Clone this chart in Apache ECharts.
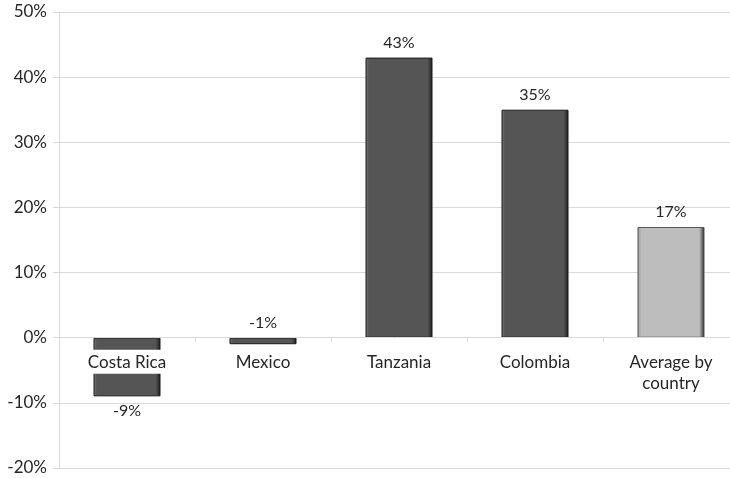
<!DOCTYPE html>
<html>
<head>
<meta charset="utf-8">
<script src="https://cdn.jsdelivr.net/npm/echarts@6/dist/echarts.min.js"></script>
<style>
  html, body { margin: 0; padding: 0; background: #fff; }
  #chart { width: 730px; height: 478px; }
</style>
</head>
<body>
<div id="chart"></div>
<script>
// Change by country (percent)
const categories = ['Costa Rica', 'Mexico', 'Tanzania', 'Colombia', 'Average by\ncountry'];
const values = [-9, -1, 43, 35, 17];
const isAverage = [false, false, false, false, true];
const yTicks = { min: -20, max: 50, interval: 10 };

const FONT = 'Lato, "Open Sans", sans-serif';
const TEXT = '#262626';
const GRID = '#d9d9d9';
const PLOT_H = 456;
// lift the category axis from the bottom edge up to the zero line
const zeroOffset = -PLOT_H * (0 - yTicks.min) / (yTicks.max - yTicks.min);

const barData = values.map((v, i) => ({
  value: v,
  itemStyle: isAverage[i]
    ? {
        color: { type: 'linear', x: 0, y: 0, x2: 1, y2: 0, colorStops: [
          { offset: 0, color: '#9a9a9a' }, { offset: 0.06, color: '#bdbdbd' },
          { offset: 0.92, color: '#bdbdbd' }, { offset: 0.96, color: '#7a7a7a' },
          { offset: 1, color: '#111' }] },
        borderColor: '#555', borderWidth: 1
      }
    : {
        color: { type: 'linear', x: 0, y: 0, x2: 1, y2: 0, colorStops: [
          { offset: 0, color: '#7a7a7a' }, { offset: 0.05, color: '#555' },
          { offset: 0.93, color: '#555' }, { offset: 0.97, color: '#333' },
          { offset: 1, color: '#111' }] },
        borderColor: '#1a1a1a', borderWidth: 1
      },
  label: { position: v < -3 ? 'bottom' : 'top' }
}));

const chart = echarts.init(document.getElementById('chart'));
chart.setOption({
  animation: false,
  backgroundColor: '#fff',
  grid: { left: 59, top: 12, width: 680, height: PLOT_H, containLabel: false, outerBoundsMode: 'none' },
  xAxis: {
    type: 'category',
    data: categories,
    position: 'bottom',
    offset: zeroOffset,
    z: 10,
    axisLine: { onZero: false, lineStyle: { color: GRID, width: 1 } },
    axisTick: { show: true, alignWithLabel: false, length: 4, lineStyle: { color: GRID } },
    axisLabel: {
      color: TEXT, fontFamily: FONT, fontSize: 17, lineHeight: 21,
      margin: 12, backgroundColor: '#fff', padding: [2, 5, 1, 5]
    }
  },
  yAxis: {
    type: 'value',
    min: yTicks.min, max: yTicks.max, interval: yTicks.interval,
    axisLine: { show: true, lineStyle: { color: GRID } },
    axisTick: { show: true, length: 6, lineStyle: { color: GRID } },
    splitLine: { lineStyle: { color: GRID } },
    axisLabel: { color: TEXT, fontFamily: FONT, fontSize: 17, margin: 12, formatter: v => v + '%' }
  },
  series: [{
    type: 'bar',
    data: barData,
    barWidth: 67,
    label: {
      show: true, color: TEXT, fontFamily: FONT, fontSize: 16, distance: 7,
      formatter: p => p.value + '%'
    }
  }]
});
</script>
</body>
</html>
